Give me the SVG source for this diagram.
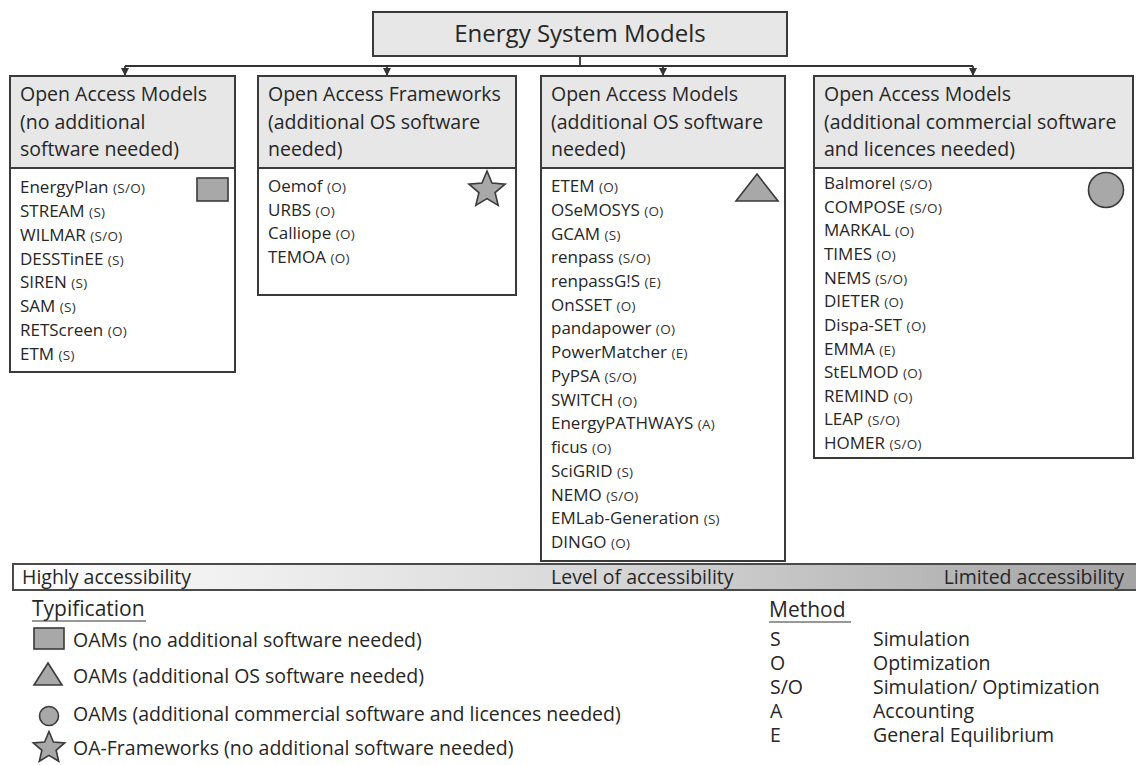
<svg xmlns="http://www.w3.org/2000/svg" width="1136" height="765" viewBox="0 0 1136 765">
<style>
text{font-family:"Open Sans","Liberation Sans",sans-serif;fill:#262626}
.box{fill:#fff;stroke:#3a3a3a;stroke-width:2}
.hdr{fill:#e7e7e7;stroke:#3a3a3a;stroke-width:2}
.ht{font-size:19.5px}
.it{font-size:17px}
.m{font-size:13.5px;letter-spacing:0.3px;fill:#333}
.ico{fill:#a8a8a8;stroke:#3a3a3a;stroke-width:1.6}
.conn{stroke:#333;stroke-width:1.8;fill:none}
.lg{font-size:19.5px}
.ul{stroke:#333;stroke-width:1.2}
</style>
<defs>
<marker id="arr" viewBox="0 0 8 8" refX="8" refY="4" markerWidth="8" markerHeight="8" markerUnits="userSpaceOnUse" orient="auto">
<path d="M0,0 L8,4 L0,8 z" fill="#333"/>
</marker>
<linearGradient id="grad" x1="0" y1="0" x2="1" y2="0">
<stop offset="0" stop-color="#ffffff"/>
<stop offset="0.5" stop-color="#d9d9d9"/>
<stop offset="1" stop-color="#a3a3a3"/>
</linearGradient>
</defs>

<g id="connectors">
<path class="conn" d="M580,56 V66 M125,66 H973"/>
<path class="conn" d="M125,66 V76" marker-end="url(#arr)"/>
<path class="conn" d="M387,66 V76" marker-end="url(#arr)"/>
<path class="conn" d="M663,66 V76" marker-end="url(#arr)"/>
<path class="conn" d="M973,66 V76" marker-end="url(#arr)"/>
</g>

<g id="title">
<rect class="hdr" x="373" y="12" width="414" height="44"/>
<text x="580" y="42" font-size="24" text-anchor="middle">Energy System Models</text>
</g>

<g id="box1">
<rect class="box" x="10" y="76" width="225" height="296"/>
<rect class="hdr" x="10" y="76" width="225" height="92"/>
<text class="ht" x="20"><tspan x="20" y="101">Open Access Models</tspan><tspan x="20" y="128.5">(no additional</tspan><tspan x="20" y="156">software needed)</tspan></text>
<rect class="ico" x="197" y="178" width="31" height="23"/>
<text class="it" x="20">
<tspan x="20" y="193">EnergyPlan <tspan class="m">(S/O)</tspan></tspan>
<tspan x="20" y="216.8">STREAM <tspan class="m">(S)</tspan></tspan>
<tspan x="20" y="240.7">WILMAR <tspan class="m">(S/O)</tspan></tspan>
<tspan x="20" y="264.5">DESSTinEE <tspan class="m">(S)</tspan></tspan>
<tspan x="20" y="288.4">SIREN <tspan class="m">(S)</tspan></tspan>
<tspan x="20" y="312.2">SAM <tspan class="m">(S)</tspan></tspan>
<tspan x="20" y="336.1">RETScreen <tspan class="m">(O)</tspan></tspan>
<tspan x="20" y="360">ETM <tspan class="m">(S)</tspan></tspan>
</text>
</g>

<g id="box2">
<rect class="box" x="258" y="76" width="258" height="219"/>
<rect class="hdr" x="258" y="76" width="258" height="92"/>
<text class="ht"><tspan x="268" y="101">Open Access Frameworks</tspan><tspan x="268" y="128.5">(additional OS software</tspan><tspan x="268" y="156">needed)</tspan></text>
<path class="ico" d="M487,171 L492,183.1 L505.1,184.1 L495.1,192.6 L498.2,205.4 L487,198.6 L475.8,205.4 L478.9,192.6 L468.9,184.1 L482,183.1 Z"/>
<text class="it">
<tspan x="268" y="192">Oemof <tspan class="m">(O)</tspan></tspan>
<tspan x="268" y="215.7">URBS <tspan class="m">(O)</tspan></tspan>
<tspan x="268" y="239.4">Calliope <tspan class="m">(O)</tspan></tspan>
<tspan x="268" y="263.1">TEMOA <tspan class="m">(O)</tspan></tspan>
</text>
</g>

<g id="box3">
<rect class="box" x="541" y="76" width="244" height="485"/>
<rect class="hdr" x="541" y="76" width="244" height="92"/>
<text class="ht"><tspan x="551" y="101">Open Access Models</tspan><tspan x="551" y="128.5">(additional OS software</tspan><tspan x="551" y="156">needed)</tspan></text>
<path class="ico" d="M757,174 L778,201 L736,201 Z"/>
<text class="it">
<tspan x="551" y="192">ETEM <tspan class="m">(O)</tspan></tspan>
<tspan x="551" y="215.7">OSeMOSYS <tspan class="m">(O)</tspan></tspan>
<tspan x="551" y="239.5">GCAM <tspan class="m">(S)</tspan></tspan>
<tspan x="551" y="263.2">renpass <tspan class="m">(S/O)</tspan></tspan>
<tspan x="551" y="286.9">renpassG!S <tspan class="m">(E)</tspan></tspan>
<tspan x="551" y="310.7">OnSSET <tspan class="m">(O)</tspan></tspan>
<tspan x="551" y="334.4">pandapower <tspan class="m">(O)</tspan></tspan>
<tspan x="551" y="358.1">PowerMatcher <tspan class="m">(E)</tspan></tspan>
<tspan x="551" y="381.8">PyPSA <tspan class="m">(S/O)</tspan></tspan>
<tspan x="551" y="405.6">SWITCH <tspan class="m">(O)</tspan></tspan>
<tspan x="551" y="429.3">EnergyPATHWAYS <tspan class="m">(A)</tspan></tspan>
<tspan x="551" y="453">ficus <tspan class="m">(O)</tspan></tspan>
<tspan x="551" y="476.8">SciGRID <tspan class="m">(S)</tspan></tspan>
<tspan x="551" y="500.5">NEMO <tspan class="m">(S/O)</tspan></tspan>
<tspan x="551" y="524.2">EMLab-Generation <tspan class="m">(S)</tspan></tspan>
<tspan x="551" y="548">DINGO <tspan class="m">(O)</tspan></tspan>
</text>
</g>

<g id="box4">
<rect class="box" x="814" y="76" width="319" height="382"/>
<rect class="hdr" x="814" y="76" width="319" height="92"/>
<text class="ht"><tspan x="824" y="101">Open Access Models</tspan><tspan x="824" y="128.5">(additional commercial software</tspan><tspan x="824" y="156">and licences needed)</tspan></text>
<circle class="ico" cx="1106" cy="190" r="17.5"/>
<text class="it">
<tspan x="824" y="189">Balmorel <tspan class="m">(S/O)</tspan></tspan>
<tspan x="824" y="212.6">COMPOSE <tspan class="m">(S/O)</tspan></tspan>
<tspan x="824" y="236.3">MARKAL <tspan class="m">(O)</tspan></tspan>
<tspan x="824" y="259.9">TIMES <tspan class="m">(O)</tspan></tspan>
<tspan x="824" y="283.6">NEMS <tspan class="m">(S/O)</tspan></tspan>
<tspan x="824" y="307.2">DIETER <tspan class="m">(O)</tspan></tspan>
<tspan x="824" y="330.8">Dispa-SET <tspan class="m">(O)</tspan></tspan>
<tspan x="824" y="354.5">EMMA <tspan class="m">(E)</tspan></tspan>
<tspan x="824" y="378.1">StELMOD <tspan class="m">(O)</tspan></tspan>
<tspan x="824" y="401.8">REMIND <tspan class="m">(O)</tspan></tspan>
<tspan x="824" y="425.4">LEAP <tspan class="m">(S/O)</tspan></tspan>
<tspan x="824" y="449">HOMER <tspan class="m">(S/O)</tspan></tspan>
</text>
</g>

<g id="accessibility-bar">
<rect x="13" y="564" width="1130" height="26" fill="url(#grad)" stroke="#4a4a4a" stroke-width="2"/>
<text x="22" y="584" font-size="19.5">Highly accessibility</text>
<text x="551" y="584" font-size="19.5">Level of accessibility</text>
<text x="1124" y="584" font-size="19.5" text-anchor="end">Limited accessibility</text>
</g>

<g id="legend-typification">
<text x="32" y="616" font-size="21">Typification</text>
<line class="ul" x1="32" y1="621" x2="146" y2="621"/>
<rect class="ico" x="34" y="628" width="30" height="21"/>
<text class="lg" x="73" y="647">OAMs (no additional software needed)</text>
<path class="ico" d="M48,663 L62,685 L34,685 Z"/>
<text class="lg" x="73" y="683">OAMs (additional OS software needed)</text>
<circle class="ico" cx="49" cy="716" r="9.5"/>
<text class="lg" x="73" y="721">OAMs (additional commercial software and licences needed)</text>
<path class="ico" d="M49,731.5 L53.4,742 L64.7,742.9 L56.1,750.3 L58.7,761.3 L49,755.4 L39.3,761.3 L41.9,750.3 L33.3,742.9 L44.6,742 Z"/>
<text class="lg" x="73" y="755">OA-Frameworks (no additional software needed)</text>
</g>

<g id="legend-method">
<text x="769" y="617" font-size="21">Method</text>
<line class="ul" x1="769" y1="622" x2="851" y2="622"/>
<text class="lg" x="770" y="646">S</text><text class="lg" x="873" y="646">Simulation</text>
<text class="lg" x="770" y="670">O</text><text class="lg" x="873" y="670">Optimization</text>
<text class="lg" x="770" y="694">S/O</text><text class="lg" x="873" y="694">Simulation/ Optimization</text>
<text class="lg" x="770" y="718">A</text><text class="lg" x="873" y="718">Accounting</text>
<text class="lg" x="770" y="742">E</text><text class="lg" x="873" y="742">General Equilibrium</text>
</g>
</svg>
